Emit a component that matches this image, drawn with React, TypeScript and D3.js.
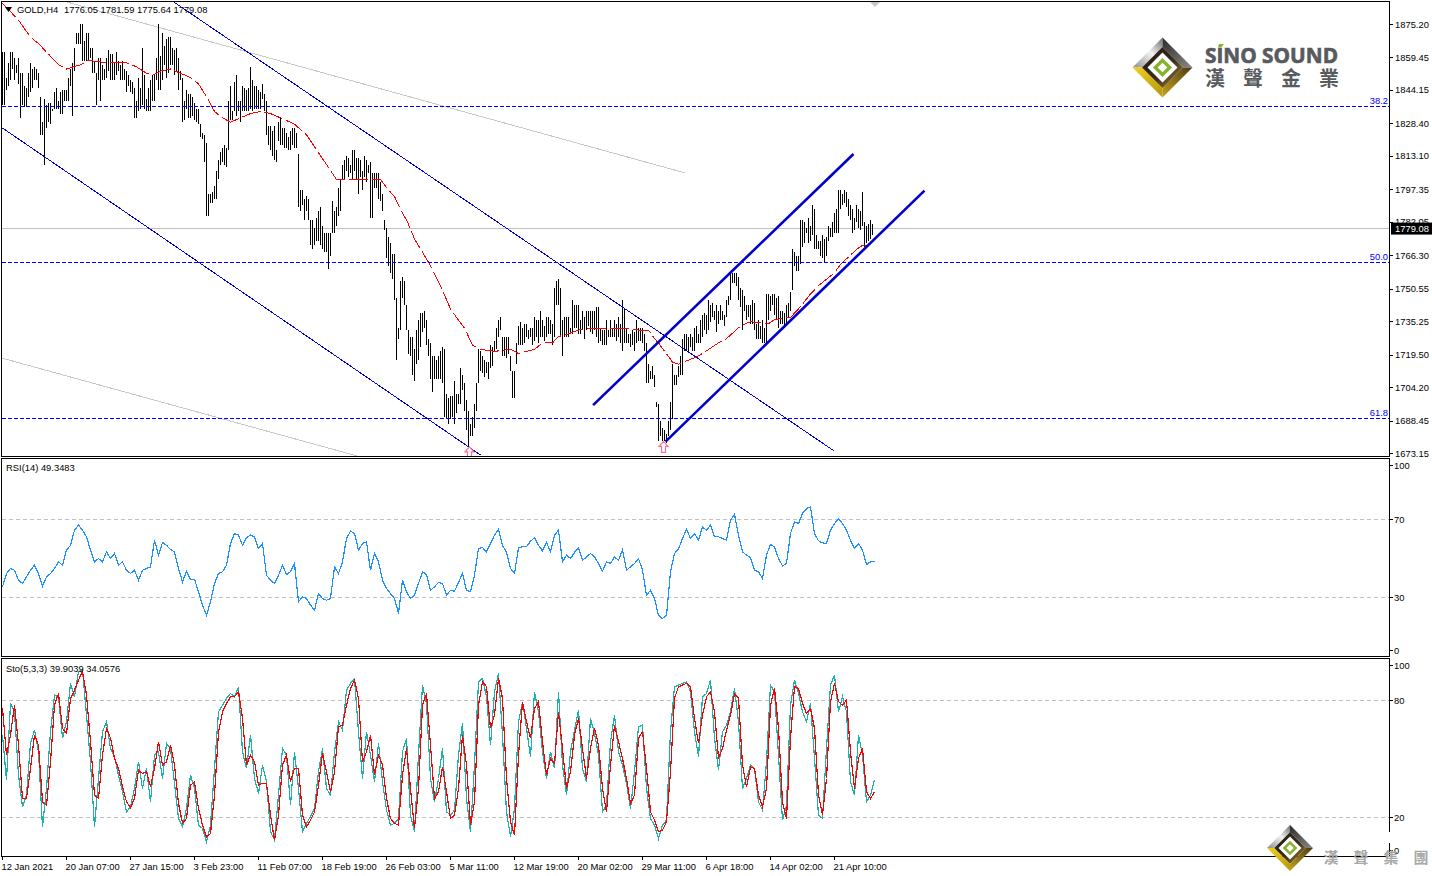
import React from "react";
import * as d3 from "d3";

const FONT = "'Liberation Sans', Arial, sans-serif";

// H4 bars, one every 2px
const highs = [
  1862,1862,1850,1857,1862,1862,1859,1856,1859,1852,
  1852,1846,1845,1852,1857,1854,1855,1854,1852,1841,
  1829,1840,1837,1838,1838,1835,1843,1845,1839,1843,
  1844,1844,1844,1850,1854,1857,1864,1871,1871,1875,
  1875,1867,1871,1871,1864,1864,1858,1852,1859,1859,
  1856,1854,1859,1863,1861,1861,1857,1862,1858,1856,
  1858,1854,1853,1851,1849,1848,1845,1839,1850,1845,
  1864,1851,1840,1845,1849,1851,1851,1859,1875,1860,
  1871,1865,1868,1869,1869,1864,1863,1864,1859,1853,
  1850,1839,1844,1842,1842,1841,1838,1835,1835,1828,
  1824,1823,1819,1795,1795,1796,1799,1806,1811,1815,
  1817,1818,1817,1839,1846,1834,1848,1851,1839,1839,
  1846,1845,1844,1845,1855,1849,1846,1846,1844,1843,
  1847,1842,1839,1827,1827,1825,1827,1816,1829,1831,
  1826,1826,1824,1822,1825,1826,1826,1824,1814,1797,
  1797,1793,1794,1793,1783,1783,1779,1784,1787,1789,
  1780,1777,1777,1777,1777,1792,1787,1789,1798,1802,
  1809,1811,1813,1812,1809,1816,1816,1812,1812,1811,
  1806,1813,1811,1809,1810,1805,1805,1805,1805,1801,
  1795,1783,1779,1775,1772,1767,1767,1746,1732,1754,
  1756,1754,1743,1731,1728,1728,1722,1731,1736,1739,
  1739,1740,1736,1727,1725,1719,1719,1717,1719,1721,
  1723,1722,1701,1699,1700,1700,1707,1701,1701,1713,
  1710,1706,1698,1693,1687,1690,1696,1706,1722,1721,
  1719,1717,1716,1716,1724,1723,1726,1732,1736,1737,
  1728,1728,1728,1728,1719,1712,1712,1725,1733,1735,
  1732,1734,1734,1731,1732,1732,1737,1736,1736,1740,
  1736,1733,1737,1737,1736,1734,1751,1754,1755,1751,
  1736,1737,1737,1737,1732,1745,1743,1743,1743,1736,
  1740,1737,1740,1740,1740,1740,1740,1742,1742,1732,
  1731,1731,1736,1731,1736,1732,1736,1734,1737,1734,
  1745,1741,1732,1729,1729,1731,1730,1736,1732,1732,
  1732,1729,1725,1715,1712,1714,1710,1697,1696,1688,
  1685,1684,1682,1688,1697,1715,1710,1710,1714,1719,
  1727,1729,1729,1728,1729,1728,1732,1733,1729,1736,
  1738,1739,1738,1745,1743,1744,1740,1743,1740,1743,
  1740,1738,1745,1747,1758,1758,1758,1758,1756,1751,
  1750,1747,1743,1743,1743,1745,1744,1734,1736,1733,
  1736,1732,1748,1748,1747,1748,1748,1746,1747,1740,
  1740,1739,1743,1744,1749,1769,1768,1766,1766,1783,
  1783,1782,1779,1784,1780,1790,1788,1776,1773,1773,
  1776,1774,1775,1780,1779,1782,1786,1788,1797,1797,
  1795,1797,1796,1793,1790,1788,1784,1790,1788,1787,
  1796,1782,1780,1781,1783,1781,
];
const lows = [
  1837,1837,1844,1846,1849,1854,1849,1852,1847,1831,
  1837,1836,1836,1841,1843,1845,1849,1849,1845,1823,
  1823,1809,1826,1829,1828,1834,1835,1835,1835,1833,
  1833,1839,1839,1839,1846,1832,1853,1866,1866,1866,
  1858,1858,1858,1858,1859,1852,1852,1837,1849,1839,
  1849,1849,1850,1853,1849,1849,1849,1851,1853,1849,
  1849,1849,1843,1846,1843,1842,1831,1831,1834,1835,
  1837,1835,1834,1834,1834,1839,1839,1849,1844,1844,
  1849,1856,1850,1852,1856,1856,1851,1853,1844,1849,
  1829,1830,1835,1831,1831,1832,1830,1829,1828,1822,
  1821,1810,1785,1785,1791,1791,1793,1793,1802,1809,
  1810,1809,1808,1816,1830,1830,1834,1832,1834,1829,
  1834,1834,1834,1834,1835,1834,1835,1835,1835,1835,
  1840,1834,1823,1818,1816,1813,1811,1810,1820,1818,
  1818,1817,1817,1816,1816,1818,1817,1817,1789,1787,
  1790,1783,1787,1783,1771,1769,1771,1773,1773,1771,
  1769,1768,1768,1760,1766,1777,1777,1780,1785,1787,
  1802,1802,1806,1803,1805,1802,1806,1802,1795,1803,
  1797,1803,1801,1805,1784,1784,1798,1798,1793,1792,
  1787,1778,1765,1761,1758,1755,1745,1717,1727,1731,
  1746,1743,1731,1720,1719,1710,1707,1715,1717,1723,
  1730,1732,1724,1719,1708,1702,1708,1708,1708,1708,
  1706,1690,1689,1687,1689,1690,1687,1692,1696,1696,
  1703,1693,1684,1676,1681,1681,1685,1693,1706,1712,
  1711,1709,1711,1708,1713,1714,1721,1722,1728,1731,
  1719,1719,1718,1720,1712,1699,1699,1715,1724,1724,
  1724,1725,1728,1727,1728,1724,1726,1728,1725,1728,
  1728,1726,1728,1729,1729,1724,1728,1743,1743,1728,
  1719,1728,1728,1728,1729,1729,1732,1732,1729,1729,
  1731,1727,1731,1733,1730,1729,1731,1728,1725,1726,
  1724,1724,1724,1728,1728,1728,1728,1726,1728,1725,
  1721,1725,1725,1725,1723,1724,1721,1725,1726,1726,
  1725,1721,1706,1706,1708,1708,1704,1695,1679,1681,
  1679,1679,1678,1681,1684,1689,1705,1705,1709,1710,
  1710,1721,1721,1721,1723,1721,1721,1725,1725,1725,
  1728,1731,1729,1731,1735,1737,1736,1730,1734,1736,
  1736,1733,1737,1743,1745,1753,1753,1752,1745,1742,
  1731,1740,1736,1737,1734,1734,1731,1727,1727,1727,
  1725,1725,1725,1736,1740,1743,1738,1736,1732,1734,
  1734,1732,1734,1737,1740,1750,1761,1759,1759,1762,
  1770,1772,1777,1772,1773,1776,1769,1769,1769,1766,
  1765,1763,1766,1773,1775,1775,1777,1777,1777,1788,
  1790,1791,1789,1785,1783,1777,1778,1782,1779,1778,
  1780,1770,1772,1773,1774,1776,
];

// moving average, read at the bars listed in maBars
const maBars = [
  0,8,14,18,22,28,32,39,43,52,62,67,72,75,79,84,89,94,98,102,106,110,114,119,124,129,134,139,146,152,
  157,162,167,172,179,185,189,193,196,200,202,206,213,219,224,227,231,235,239,246,254,258,266,270,275,278,282,288,294,301,
  313,318,323,326,328,335,338,346,350,358,362,369,374,383,386,394,398,404,408,416,419,427,430,433,
];
const maValues = [
  1885,1877,1869,1866,1862,1856,1854,1856,1858,1857,1857,1855,1852,1851,1853,1854,1852,1850,1847,1841,1834,1831,1829,1831,1833,1834,1833,1831,1828,1823,
  1816,1809,1802,1802,1802,1802,1802,1797,1794,1786,1783,1774,1763,1752,1741,1737,1732,1724,1722,1721,1722,1720,1722,1725,1725,1728,1729,1731,1732,1732,
  1732,1731,1731,1727,1725,1716,1715,1718,1720,1725,1727,1733,1735,1734,1736,1737,1741,1748,1752,1758,1762,1769,1771,1771,
];

// one reading every second bar
const rsiValues = [
  35.5,42.3,44.9,44.0,38.9,37.2,40.6,44.0,46.6,42.3,
  35.8,40.6,42.3,44.9,48.3,46.6,54.3,56.8,64.5,67.1,
  64.5,61.1,54.3,48.3,50.0,48.3,53.4,50.0,52.6,46.6,
  48.3,44.0,42.3,44.0,38.9,44.0,44.9,45.7,59.4,51.7,
  58.2,56.8,54.6,53.4,44.9,38.0,43.5,39.4,39.4,32.9,
  26.1,20.9,27.8,37.2,42.3,43.2,46.6,57.7,62.8,62.0,
  56.8,60.6,62.0,61.1,55.1,57.7,41.4,38.9,37.2,41.4,
  46.6,41.8,43.2,47.4,27.8,30.3,29.5,26.1,23.5,32.0,
  29.5,28.6,29.5,45.7,42.3,48.3,60.3,64.0,62.8,54.3,
  57.7,58.5,44.0,52.6,48.3,38.9,34.6,32.0,29.5,21.8,
  38.9,32.9,29.5,31.2,37.2,43.2,41.8,33.7,35.5,37.7,
  37.2,31.2,33.7,33.2,37.7,42.3,33.7,32.9,41.4,55.1,
  55.6,53.4,57.7,62.0,65.0,56.8,53.1,44.9,42.3,55.5,
  56.0,56.0,58.9,60.6,56.8,53.9,58.2,53.4,62.0,64.5,
  48.3,51.7,50.0,53.1,55.5,49.1,50.8,52.6,50.8,47.4,
  43.5,48.3,47.4,50.8,49.1,54.3,44.0,45.7,47.4,50.0,
  44.0,31.2,33.7,29.5,20.9,19.2,20.9,43.2,52.6,54.8,
  60.3,65.0,60.3,62.8,59.4,66.2,64.5,67.1,61.1,61.1,
  60.3,59.4,69.7,72.7,62.0,53.4,51.7,50.5,44.0,43.2,
  39.7,51.7,57.2,56.0,50.0,46.2,47.4,62.8,68.8,67.9,
  73.1,75.6,76.5,62.8,59.1,58.0,57.7,64.5,67.9,70.5,
  67.9,64.5,59.4,55.1,57.7,54.3,46.9,48.3,48.6,
];
const stoMain = [
  62.3,39.2,78.5,74.2,41.7,25.5,31.5,58,64.8,53.7,
  15.2,34.9,64,82.8,81.9,60.6,69.1,88.8,81.9,94.8,
  95.6,72.5,48.6,15.2,40,64,69.1,55.4,51.1,41.7,
  33.2,22.9,25.5,34.9,48.6,34.9,45.2,28,52,53.7,
  40,58,55.4,37.5,19.5,15.2,24.6,41.7,34.9,16.1,
  14.4,7.5,16.1,45.2,74.2,77.6,81.1,83.6,81.9,87.1,
  53.7,45.2,62.3,40,32.3,46.9,38.3,12.7,8.4,31.5,
  55.4,52,26.3,53.7,34.9,12.7,17,20.4,24.6,43.4,
  55.4,34.9,31.5,53.7,69.1,64.8,85.3,88.8,91.3,64,
  40,64,52,38.3,58,38.3,23.8,16.1,17,19.5,
  53.7,60.6,21.2,12.7,52,87.9,78.5,40,28,40,
  55.4,22.9,21.2,23.8,52,68.2,29.8,12.7,46.9,89.6,
  91.3,81.9,57.1,84.5,93.9,62.3,22.9,10.1,24.6,69.1,
  79.4,65.7,51.1,84.5,74.2,53.7,40,53.7,45.2,84.5,
  46.9,31.5,53.7,64.8,75.1,45.2,38.3,70.8,63.1,52,
  22.9,26.3,58.8,72.5,53.7,46.9,37.5,24.6,43.4,66.5,
  67.4,34.9,19.5,16.1,9.2,16.1,18.7,64,87.1,87.9,
  88.8,89.6,84.5,64,51.1,81.9,83.6,90.5,60.6,44.3,
  64,67.4,74.2,86.2,69.1,34.9,40,46.9,45.2,28,
  23.8,48.6,87.9,84.5,52,18.7,26.3,77.6,90.5,83.6,
  74.2,69.1,78.5,50.3,21.2,19.5,55.4,87.9,93,74.2,
  81.9,74.2,38.3,31.5,62.3,52,28,31.5,39.2,
];
const stoSignal = [
  75.9,52,62.3,77.6,57.1,29.8,29.8,45.2,62.3,57.1,
  28,26.3,48.6,77.6,83.6,65.7,63.1,81.1,85.3,90.5,
  94.8,82.8,58.8,31.5,29.8,52,65.7,60.6,50.3,45.2,
  35.8,28,25,29.8,44.3,42.6,43.4,35.8,45.2,58.8,
  46.9,48.6,57.1,46.9,27.2,17,19.5,36.6,38.3,24.6,
  16.1,10.1,11.8,31.5,64,74.2,78.5,81.9,81.9,84.5,
  70.8,46.9,52,48.6,36.6,37.5,37.5,21.2,8.4,21.2,
  46.9,52,38.3,45.2,45.2,21.2,15.2,18.7,22.9,36.6,
  52.9,43.4,33.2,43.4,66.5,67.4,77.6,86.2,90.5,81.1,
  48.6,53.7,62.3,41.7,52,46.9,29.8,19.5,17,16.1,
  41.7,55.4,34.9,14.4,34.9,77.6,83.6,57.1,29.8,33.2,
  46,33.2,19.5,21.2,34.9,62.3,46.9,16.1,28,77.6,
  89.6,87.1,65.7,72.5,91.3,81.1,40,17.8,11,52,
  79.4,69.1,60.6,75.9,79.4,58.8,41.7,50.3,47.7,74.2,
  55.4,34.9,43.4,62.3,70.8,55.4,40,55.4,65.7,57.1,
  34.9,22.9,46.9,67.4,58.8,50.3,40,27.2,31.5,60.6,
  64,45.2,22.9,18.7,12.7,13.5,17.8,43.4,81.1,87.1,
  87.9,88.8,87.1,70.8,58,72.5,81.9,84.5,74.2,50.3,
  55.4,64.8,72.5,83.6,81.1,46.9,35.8,46,45.2,31.5,
  25.5,34.9,77.6,86.2,65.7,28,19.5,60.6,87.1,86.2,
  78.5,73.4,75.9,65.7,31.5,21.2,40,79.4,88.8,79.4,
  77.6,80.2,53.7,34.9,50.3,55.4,33.2,29.8,33.2,
];

const priceTicks = ["1875.20","1859.45","1844.15","1828.40","1813.10","1797.35","1782.05","1766.30","1750.55","1735.25","1719.50","1704.20","1688.45","1673.15"];
const timeLabels = ["12 Jan 2021","20 Jan 07:00","27 Jan 15:00","3 Feb 23:00","11 Feb 07:00","18 Feb 19:00","26 Feb 03:00","5 Mar 11:00","12 Mar 19:00","20 Mar 02:00","29 Mar 11:00","6 Apr 18:00","14 Apr 02:00","21 Apr 10:00"];
const timeTickBars = [0,32,64,96,128,160,192,224,256,288,320,352,384,416];

const fibLevels = [1836.6, 1762.9, 1689.4];
const fibLabels = ["38.2", "50.0", "61.8"];
const lastPrice = 1779.08;

// [bar, price, bar, price]
const thinBlueLines = [
  [85, 1886, 415.5, 1674.3],
  [0, 1826.2, 239, 1672.2],
];
const greyLines = [
  [30.5, 1886, 341.5, 1805],
  [-0.5, 1717.9, 177.5, 1671.7],
];
const channelLines = [
  [295.3, 1695.7, 425.5, 1814],
  [331.5, 1678.5, 461, 1796.7],
];
const arrowBars = [233.5, 330.5];
const arrowPrices = [1676, 1678.6];

const rsiLevels = [70, 30];
const rsiAxis = [100, 70, 30, 0];
const stoLevels = [80, 20];
const stoAxis = [100, 80, 20, 0];

const left = 1.5;
const right = 1389.5;
const mainP = { top: 1.5, bottom: 456.5 };
const rsiP = { top: 458.5, bottom: 656.5 };
const stoP = { top: 658.5, bottom: 856.5 };

const x = d3.scaleLinear().domain([0, 435]).range([2.5, 872.5]);
const yPrice = d3.scaleLinear().domain([1673.15, 1875.2]).range([453, 24]);
const yRsi = d3.scaleLinear().domain([30, 70]).range([597.5, 519.5]);
const ySto = d3.scaleLinear().domain([20, 80]).range([817.5, 700.5]);

const maLine = d3
  .line<number>()
  .x((_, i) => x(maBars[i]))
  .y((d) => yPrice(d));

const everySecond = (scale: d3.ScaleLinear<number, number>) =>
  d3
    .line<number>()
    .x((_, i) => x(i * 2))
    .y((d) => scale(d));

const textBase = { fontFamily: FONT, fontSize: 9.4, fill: "#000" };

const Logo = ({ cx, cy, r, id }: { cx: number; cy: number; r: number; id: string }) => {
  const poly = (pts: number[][]) => pts.map((p) => `${cx + p[0] * r},${cy + p[1] * r}`).join(" ");
  const diamond = (k: number) => poly([[-k, 0], [0, -k], [k, 0], [0, k]]);
  return (
    <g>
      <defs>
        <linearGradient id={`${id}-silver`} x1="0" y1="1" x2="1" y2="0">
          <stop offset="0" stopColor="#8c8c8c" />
          <stop offset="0.55" stopColor="#f2f2f2" />
          <stop offset="1" stopColor="#6e6e6e" />
        </linearGradient>
        <linearGradient id={`${id}-dark`} x1="0" y1="0" x2="1" y2="1">
          <stop offset="0" stopColor="#2e2a28" />
          <stop offset="1" stopColor="#8a8a8a" />
        </linearGradient>
        <linearGradient id={`${id}-gold`} x1="0" y1="0" x2="1" y2="1">
          <stop offset="0" stopColor="#f0d020" />
          <stop offset="1" stopColor="#b8960c" />
        </linearGradient>
        <linearGradient id={`${id}-bronze`} x1="0" y1="1" x2="1" y2="0">
          <stop offset="0" stopColor="#c9a21e" />
          <stop offset="1" stopColor="#4a3a14" />
        </linearGradient>
        <linearGradient id={`${id}-inner`} x1="0" y1="0" x2="1" y2="1">
          <stop offset="0" stopColor="#1c1614" />
          <stop offset="0.55" stopColor="#3a2c1c" />
          <stop offset="1" stopColor="#b09030" />
        </linearGradient>
      </defs>
      <polygon points={poly([[-1, 0], [0, -1], [0, -0.68], [-0.68, 0]])} fill={`url(#${id}-silver)`} />
      <polygon points={poly([[0, -1], [1, 0], [0.68, 0], [0, -0.68]])} fill={`url(#${id}-dark)`} />
      <polygon points={poly([[-1, 0], [0, 1], [0, 0.68], [-0.68, 0]])} fill={`url(#${id}-gold)`} />
      <polygon points={poly([[1, 0], [0, 1], [0, 0.68], [0.68, 0]])} fill={`url(#${id}-bronze)`} />
      <polygon points={diamond(0.68)} fill={`url(#${id}-inner)`} />
      <polygon points={diamond(0.5)} fill="#fff" />
      <polygon points={diamond(0.32)} fill="#86b22e" />
      <polygon points={diamond(0.16)} fill="#fff" />
    </g>
  );
};

export default function App() {
  const hline = (y: number) => Math.round(y) + 0.5;
  return (
    <svg
      width={1432}
      height={876}
      viewBox="0 0 1432 876"
      style={{ position: "absolute", left: 0, top: 0, background: "#fff" }}
    >
      <defs>
        <clipPath id="mainClip">
          <rect x={left} y={mainP.top} width={right - left} height={mainP.bottom - mainP.top} />
        </clipPath>
      </defs>

      {/* Price panel */}
      <g clipPath="url(#mainClip)">
        {greyLines.map((l, i) => (
          <line key={i} x1={x(l[0])} y1={yPrice(l[1])} x2={x(l[2])} y2={yPrice(l[3])} stroke="#c8c8c8" shapeRendering="crispEdges" />
        ))}
        <line x1={left} x2={right} y1={hline(yPrice(lastPrice))} y2={hline(yPrice(lastPrice))} stroke="#c0c0c0" shapeRendering="crispEdges" />
        {highs.map((h, i) => (
          <line key={i} x1={x(i)} x2={x(i)} y1={yPrice(h)} y2={yPrice(lows[i])} stroke="#000" shapeRendering="crispEdges" />
        ))}
        <path d={maLine(maValues) ?? ""} fill="none" stroke="#ff0000" strokeDasharray="19,4" shapeRendering="crispEdges" />
        {fibLevels.map((f) => (
          <line key={f} x1={left} x2={right} y1={hline(yPrice(f))} y2={hline(yPrice(f))} stroke="#0000ff" strokeDasharray="4,2" shapeRendering="crispEdges" />
        ))}
        {thinBlueLines.map((l, i) => (
          <line key={i} x1={x(l[0])} y1={yPrice(l[1])} x2={x(l[2])} y2={yPrice(l[3])} stroke="#0000cd" shapeRendering="crispEdges" />
        ))}
        {channelLines.map((l, i) => (
          <line key={i} x1={x(l[0])} y1={yPrice(l[1])} x2={x(l[2])} y2={yPrice(l[3])} stroke="#0000cd" strokeWidth={2.6} />
        ))}
        {arrowBars.map((b, i) => (
          <path
            key={b}
            transform={`translate(${x(b)},${yPrice(arrowPrices[i])})`}
            d="M0,0 L4.5,5 L2,5 L2,11 L-2,11 L-2,5 L-4.5,5 Z"
            fill="#fff"
            stroke="#ff6f91"
            strokeWidth={1.2}
          />
        ))}
      </g>
      <rect x={left} y={mainP.top} width={right - left} height={mainP.bottom - mainP.top} fill="none" stroke="#000" shapeRendering="crispEdges" />
      <polygon points="5,7 12,7 8.5,12" fill="#000" />
      <text {...textBase} x={17} y={13}>GOLD,H4</text>
      <text {...textBase} x={64} y={13}>1776.05 1781.59 1775.64 1779.08</text>
      <polygon points="870,2 880,2 875,7" fill="#c8c8c8" />
      {fibLabels.map((l, i) => (
        <text key={l} {...textBase} fill="#0000ff" x={1388} y={yPrice(fibLevels[i]) - 2} textAnchor="end">{l}</text>
      ))}
      {priceTicks.map((t) => (
        <g key={t}>
          <line x1={right} x2={right + 3} y1={hline(yPrice(+t))} y2={hline(yPrice(+t))} stroke="#000" shapeRendering="crispEdges" />
          <text {...textBase} x={1395} y={yPrice(+t) + 3.5}>{t}</text>
        </g>
      ))}
      <rect x={1391} y={yPrice(lastPrice) - 5.5} width={41} height={12} fill="#000" />
      <text {...textBase} fill="#fff" x={1395} y={yPrice(lastPrice) + 4}>{lastPrice.toFixed(2)}</text>

      {/* RSI panel */}
      {rsiLevels.map((l) => (
        <line key={l} x1={left} x2={right} y1={yRsi(l)} y2={yRsi(l)} stroke="#c0c0c0" strokeDasharray="4,3" shapeRendering="crispEdges" />
      ))}
      <path d={everySecond(yRsi)(rsiValues) ?? ""} fill="none" stroke="#1e90ff" strokeWidth={1.2} shapeRendering="crispEdges" />
      <rect x={left} y={rsiP.top} width={right - left} height={rsiP.bottom - rsiP.top} fill="none" stroke="#000" shapeRendering="crispEdges" />
      <text {...textBase} x={6} y={471}>RSI(14) 49.3483</text>
      {rsiAxis.map((t) => {
        const y = Math.min(rsiP.bottom - 6, Math.max(rsiP.top + 7, yRsi(t)));
        return (
          <g key={t}>
            <line x1={right} x2={right + 3} y1={y} y2={y} stroke="#000" shapeRendering="crispEdges" />
            <text {...textBase} x={1394} y={y + 3.5}>{t}</text>
          </g>
        );
      })}

      {/* Stochastic panel */}
      {stoLevels.map((l) => (
        <line key={l} x1={left} x2={right} y1={ySto(l)} y2={ySto(l)} stroke="#c0c0c0" strokeDasharray="4,3" shapeRendering="crispEdges" />
      ))}
      <path d={everySecond(ySto)(stoMain) ?? ""} fill="none" stroke="#20b2aa" strokeWidth={1.2} shapeRendering="crispEdges" />
      <path d={everySecond(ySto)(stoSignal) ?? ""} fill="none" stroke="#ff0000" strokeWidth={1.2} shapeRendering="crispEdges" />
      <rect x={left} y={stoP.top} width={right - left} height={stoP.bottom - stoP.top} fill="none" stroke="#000" shapeRendering="crispEdges" />
      <text {...textBase} x={6} y={672}>Sto(5,3,3) 39.9039 34.0576</text>
      {stoAxis.map((t) => {
        const y = Math.min(stoP.bottom - 6, Math.max(stoP.top + 7, ySto(t)));
        return (
          <g key={t}>
            <line x1={right} x2={right + 3} y1={y} y2={y} stroke="#000" shapeRendering="crispEdges" />
            <text {...textBase} x={1394} y={y + 3.5}>{t}</text>
          </g>
        );
      })}

      {/* Time axis */}
      {timeTickBars.map((b, i) => (
        <g key={b}>
          <line x1={x(b)} x2={x(b)} y1={stoP.bottom} y2={stoP.bottom + 3} stroke="#000" shapeRendering="crispEdges" />
          <text {...textBase} x={x(b) - 1} y={870}>{timeLabels[i]}</text>
        </g>
      ))}

      {/* Logos */}
      <Logo cx={1162.5} cy={67.5} r={30} id="logoTop" />
      <text x={1205} y={63} fontFamily="'Open Sans', 'Liberation Sans', sans-serif" fontWeight={700} fontSize={22} fill="#585a5e" stroke="#585a5e" strokeWidth={0.7} textLength={133} lengthAdjust="spacingAndGlyphs">SINO SOUND</text>
      <polygon points="1219,44 1224,44 1221,47.5 1218,47.5" fill="#86b22e" />
      {["漢", "聲", "金", "業"].map((c, i) => (
        <text key={c} x={1205 + i * 38} y={86} fontFamily="'Noto Sans CJK TC', sans-serif" fontWeight={700} fontSize={20} fill="#585a5e">{c}</text>
      ))}
      <rect x={1388} y={832} width={3} height={11} fill="#fff" />
      <Logo cx={1290} cy={848} r={23} id="logoBottom" />
      {["漢", "聲", "集", "團"].map((c, i) => (
        <text key={c} x={1323.5 + i * 30} y={863} fontFamily="'Noto Sans CJK TC', sans-serif" fontWeight={700} fontSize={15} fill="#a8a8a8">{c}</text>
      ))}
    </svg>
  );
}
